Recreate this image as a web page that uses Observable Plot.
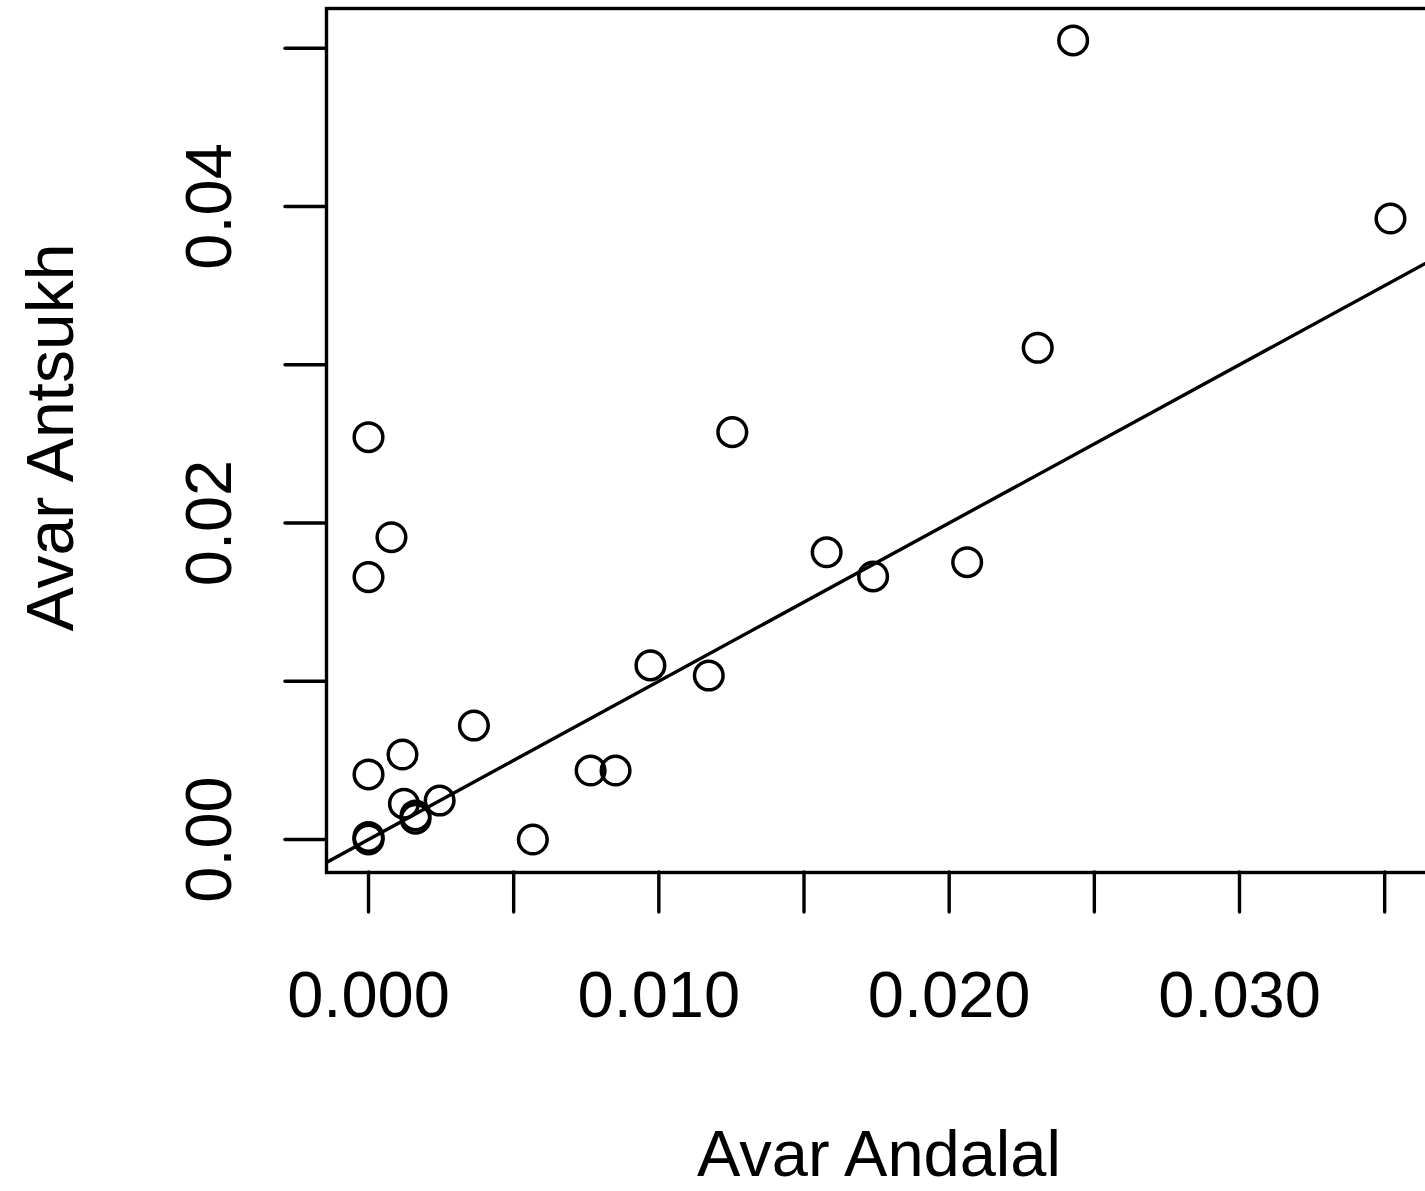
<!DOCTYPE html>
<html>
<head>
<meta charset="utf-8">
<script src="https://cdn.jsdelivr.net/npm/d3@7"></script>
<script src="https://cdn.jsdelivr.net/npm/@observablehq/plot@0.6"></script>
<style>
  html, body { margin: 0; padding: 0; background: white; overflow: hidden; }
  #chart svg { display: block; overflow: hidden; }
</style>
</head>
<body>
<div id="chart"></div>
<script>
// Values
const andalal = [0.02427, 0.03520, 0.02305, 0.01253, 0.00000, 0.00079, 0.00000, 0.01578, 0.01738, 0.02062,
                 0.00971, 0.01172, 0.00363, 0.00117, 0.00000, 0.00765, 0.00851, 0.00245, 0.00122, 0.00162,
                 0.00162, 0.00000, 0.00000, 0.00000, 0.00566];
const antsukh = [0.05049, 0.03924, 0.03107, 0.02574, 0.02542, 0.01910, 0.01658, 0.01815, 0.01662, 0.01752,
                 0.01100, 0.01036, 0.00720, 0.00537, 0.00411, 0.00436, 0.00436, 0.00246, 0.00226, 0.00152,
                 0.00131, 0.00016, 0.00000, 0.00008, 0.00000];

const xTicks = [0, 0.005, 0.010, 0.015, 0.020, 0.025, 0.030, 0.035];
const xLabelValues = [0, 0.010, 0.020, 0.030];
const xLabelTexts = ["0.000", "0.010", "0.020", "0.030"];
const yTicks = [0, 0.01, 0.02, 0.03, 0.04, 0.05];
const yLabelValues = [0, 0.02, 0.04];
const yLabelTexts = ["0.00", "0.02", "0.04"];
const xTitle = "Avar Andalal";
const yTitle = "Avar Antsukh";

const xDomain = [-0.001447, 0.036613];
const yDomain = [-0.002085, 0.05251];

const points = andalal.map((x, i) => ({x, y: antsukh[i]}));
const xLabels = xLabelValues.map((v, i) => ({v, t: xLabelTexts[i]}));
const yLabels = yLabelValues.map((v, i) => ({v, t: yLabelTexts[i]}));

const font = "'Liberation Sans', Arial, Helvetica, sans-serif";

const chart = Plot.plot({
  width: 1425,
  height: 1191,
  marginLeft: 326,
  marginRight: -6,
  marginTop: 8,
  marginBottom: 319,
  style: {background: "white", fontFamily: font, overflow: "hidden"},
  x: {domain: xDomain},
  y: {domain: yDomain},
  marks: [
    Plot.axisX({ticks: xTicks, tickSize: 40, tickFormat: () => "", stroke: "black", strokeWidth: 3.4, strokeLinecap: "round", label: null}),
    Plot.axisY({ticks: yTicks, tickSize: 41, tickFormat: () => "", stroke: "black", strokeWidth: 3.4, strokeLinecap: "round", label: null}),
    Plot.text(xLabels, {x: "v", text: "t", frameAnchor: "bottom", dy: 144, lineAnchor: "bottom", textAnchor: "middle", fontSize: 65, fill: "black"}),
    Plot.text(yLabels, {y: "v", text: "t", frameAnchor: "left", dx: -96, rotate: -90, lineAnchor: "bottom", textAnchor: "middle", fontSize: 65, fill: "black"}),
    Plot.text([xTitle], {text: d => d, frameAnchor: "bottom", dy: 303, lineAnchor: "bottom", textAnchor: "middle", fontSize: 65, fill: "black"}),
    Plot.text([yTitle], {text: d => d, frameAnchor: "left", dx: -254, dy: -3, rotate: -90, lineAnchor: "bottom", textAnchor: "middle", fontSize: 66, fill: "black"}),
    Plot.line(xDomain, {x: d => d, y: d => d, stroke: "black", strokeWidth: 3.4, clip: true}),
    Plot.dot(points, {x: "x", y: "y", r: 14.3, stroke: "black", strokeWidth: 3.5, fill: "none"}),
    Plot.frame({stroke: "black", strokeWidth: 3.4})
  ]
});
document.getElementById("chart").appendChild(chart);
</script>
</body>
</html>
